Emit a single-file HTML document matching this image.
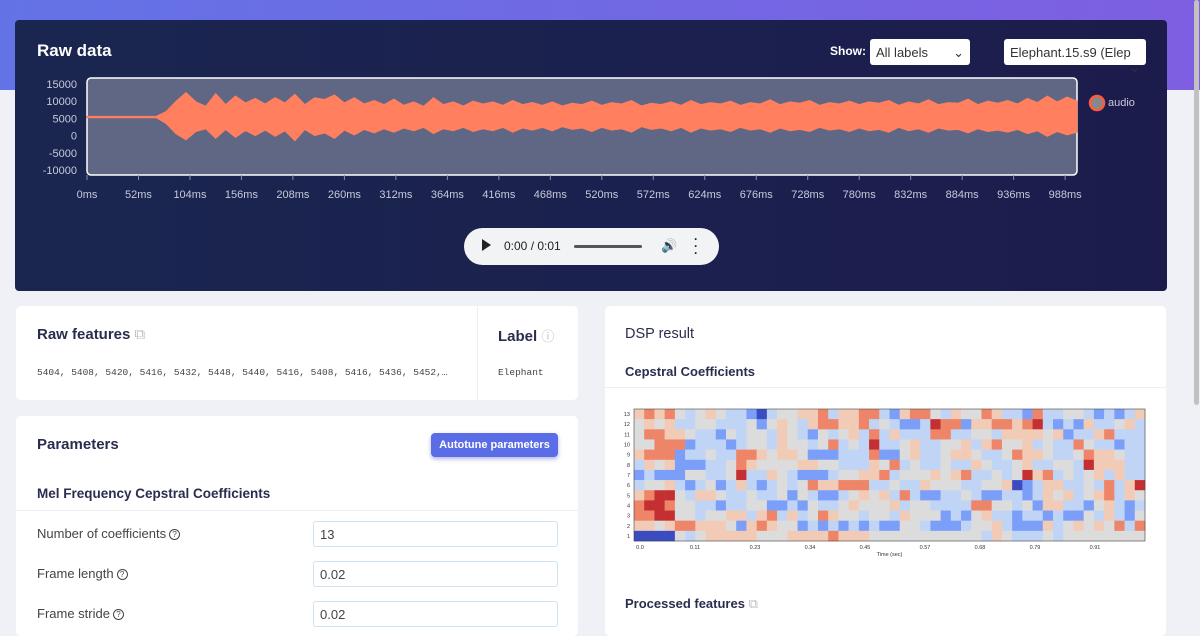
<!DOCTYPE html>
<html><head><meta charset="utf-8">
<style>
*{box-sizing:border-box;margin:0;padding:0}
body{width:1200px;height:621px;overflow:hidden;background:#f0f1f6;font-family:"Liberation Sans",sans-serif;position:relative;color:#2b2d4f}
.band{position:absolute;left:0;top:0;width:1200px;height:90px;background:linear-gradient(90deg,#6373e6,#7e5fe2)}
.dark{position:absolute;left:15px;top:20px;width:1152px;height:271px;border-radius:4px;background:linear-gradient(90deg,#1a2650,#1c1c4c)}
.card{position:absolute;background:#fff;border-radius:5px}
.h{position:absolute;font-weight:bold;color:#2b2d4f}
.sel{position:absolute;background:#fff;border-radius:3px;font-size:13px;color:#333;padding:6px 6px;height:26px}
.inp{position:absolute;left:313px;width:245px;height:26px;border:1px solid #cfe3f0;border-radius:3px;font-size:13px;color:#444;padding:5px 6px}
.lbl{position:absolute;left:37px;font-size:13px;color:#444}
.q{display:inline-block;width:11px;height:11px;border:1.3px solid #444;border-radius:50%;font-size:8px;text-align:center;line-height:9px;vertical-align:middle;margin-left:3px}
</style></head><body>
<div class="band"></div>
<div class="dark">
 <div class="h" style="left:22px;top:21px;color:#fff;font-size:17px">Raw data</div>
 <div class="h" style="left:815px;top:24px;color:#fff;font-size:12px">Show:</div>
 <div class="sel" style="left:855px;top:19px;width:100px">All labels <span style="float:right">⌄</span></div>
 <div class="sel" style="left:989px;top:19px;width:142px">Elephant.15.s9 (Elep <span style="float:right">⌄</span></div>
 <div style="position:absolute;left:449px;top:208px;width:255px;height:37px;border-radius:19px;background:#f1f3f4;font-size:12px;color:#222">
  <span style="position:absolute;left:18px;top:11px;border-left:9px solid #222;border-top:6px solid transparent;border-bottom:6px solid transparent"></span>
  <span style="position:absolute;left:40px;top:11px">0:00 / 0:01</span>
  <span style="position:absolute;left:110px;top:17px;width:68px;height:3px;background:#555;border-radius:2px"></span>
  <span style="position:absolute;left:197px;top:10px;font-size:13px">🔊</span>
  <span style="position:absolute;left:230px;top:8px;font-weight:bold;line-height:7px">·<br>·<br>·</span>
 </div>
</div>
<svg id="wave" width="1200" height="210" style="position:absolute;left:0;top:0"></svg>

<div class="card" style="left:16px;top:306px;width:562px;height:94px">
 <div class="h" style="left:21px;top:20px;font-size:15px">Raw features <span style="color:#bbb;font-weight:normal">⧉</span></div>
 <div style="position:absolute;left:21px;top:61px;font-family:'Liberation Mono',monospace;font-size:9.5px;color:#444">5404, 5408, 5420, 5416, 5432, 5448, 5440, 5416, 5408, 5416, 5436, 5452,…</div>
 <div style="position:absolute;left:461px;top:0;width:1px;height:94px;background:#eee"></div>
 <div class="h" style="left:482px;top:20px;font-size:15px">Label <span style="color:#bbb;font-weight:normal;font-size:13px">ⓘ</span></div>
 <div style="position:absolute;left:482px;top:61px;font-family:'Liberation Mono',monospace;font-size:9.5px;color:#444">Elephant</div>
</div>
<div class="card" style="left:16px;top:416px;width:562px;height:220px">
 <div class="h" style="left:21px;top:20px;font-size:15px">Parameters</div>
 <div style="position:absolute;left:415px;top:17px;width:127px;height:24px;background:#5b6de6;border-radius:4px;color:#fff;font-size:11px;font-weight:bold;text-align:center;line-height:24px;box-shadow:0 2px 4px rgba(60,60,200,.4)">Autotune parameters</div>
 <div class="h" style="left:21px;top:70px;font-size:13.5px">Mel Frequency Cepstral Coefficients</div>
 <div style="position:absolute;left:0;top:94px;width:562px;height:1px;background:#eee"></div>
</div>
<div class="lbl" style="top:526px">Number of coefficients<span class="q">?</span></div>
<div class="inp" style="top:521px">13</div>
<div class="lbl" style="top:566px">Frame length<span class="q">?</span></div>
<div class="inp" style="top:561px">0.02</div>
<div class="lbl" style="top:606px">Frame stride<span class="q">?</span></div>
<div class="inp" style="top:601px">0.02</div>

<div class="card" style="left:605px;top:306px;width:561px;height:330px">
 <div class="h" style="left:20px;top:20px;font-size:14.5px;font-weight:normal;color:#2b2d4f">DSP result</div>
 <div class="h" style="left:20px;top:58px;font-size:13px">Cepstral Coefficients</div>
 <div style="position:absolute;left:0;top:81px;width:561px;height:1px;background:#eee"></div>
 <div class="h" style="left:20px;top:290px;font-size:13px">Processed features <span style="color:#bbb;font-weight:normal">⧉</span></div>
</div>
<svg id="heat" width="1200" height="621" style="position:absolute;left:0;top:0;pointer-events:none"></svg>
<div style="position:absolute;left:1194px;top:0;width:5px;height:405px;background:#c1c1c1;border-radius:3px"></div>

<script>
// waveform envelope (thousands), one value per 10ms from 0 to 1000ms
const waveStepMs=10;
const waveUpper=[5.6,5.6,5.6,5.6,5.6,5.6,5.6,5.6,
7,10,12.5,9.8,8.5,12.2,9,11.5,9.5,10.8,9.2,11,9.5,12,9,11,10.5,11.8,9.5,11,9.2,10.2,9,10.6,8.8,9.8,8.5,11,9,9.8,8.6,10,9.2,9.8,8.8,10.2,9,9.6,8.8,9.8,8.6,9.4,9,10,8.8,9.6,9.2,10.2,8.6,9.4,9,9.8,8.8,10.2,9,9.6,9.2,10,8.8,9.6,9.2,10.4,9,9.8,9.4,10.2,8.8,9.6,9.2,10,9,9.8,9.4,10.2,8.8,9.8,9.2,10.4,9,9.6,9.4,10.6,9,10,9.4,10.2,9.2,10.8,9.6,11.5,9.8,11.2,10];
const waveLower=[5.2,5.2,5.2,5.2,5.2,5.2,5.2,5.2,
3.5,0.5,-1.2,1.2,2,-0.8,1.8,-0.5,1.5,0,1.6,-0.2,1.4,-1.5,1.8,0,0.8,-0.8,1.6,0.2,1.8,0.8,2,1,2.2,1.4,2.4,0.6,2,1.4,2.4,1.2,2,1.4,2.4,1,2.2,1.6,2.4,1.4,2.6,1.8,2.2,1.2,2.4,1.6,2,1,2.6,1.8,2.2,1.4,2.4,1,2.2,1.6,2,1.2,2.4,1.6,2,1,2.2,1.4,1.8,1.2,2.4,1.6,2,1.2,2.2,1.4,1.8,1,2.4,1.4,2,1,2.2,1.6,1.8,0.8,2,1.2,1.6,1,1.8,0.6,1.4,-0.2,1.2,0.2,1];
const xTicks=[0,52,104,156,208,260,312,364,416,468,520,572,624,676,728,780,832,884,936,988];
const yTicks=[15000,10000,5000,0,-5000,-10000];
const NS='http://www.w3.org/2000/svg';
function mk(svg,t,a){const e=document.createElementNS(NS,t);for(const k in a)e.setAttribute(k,a[k]);svg.appendChild(e);return e;}
const W=document.getElementById('wave');
const xS=v=>87+v*(1077-87)/1000;
const yS=v=>84+(15000-v)*(170-84)/25000;
let r=mk(W,'rect',{x:87,y:78,width:990,height:97,rx:4,fill:'#5f6784',stroke:'#fff','stroke-width':1.5});

let pts=waveUpper.map((v,i)=>xS(i*waveStepMs)+','+yS(v*1000)).concat(waveLower.map((v,i)=>xS(i*waveStepMs)+','+yS(v*1000)).reverse());
let p=mk(W,'polygon',{points:pts.join(' '),fill:'#ff7f5e',stroke:'#ff7f5e','stroke-width':1});

yTicks.forEach(v=>{let t=mk(W,'text',{x:77,y:yS(v)+4,'text-anchor':'end','font-size':11,fill:'#c6cadb','font-family':'Liberation Sans'});t.textContent=v;
});
xTicks.forEach(v=>{mk(W,'line',{x1:xS(v),x2:xS(v),y1:175,y2:180,stroke:'#8890aa'});let t=mk(W,'text',{x:xS(v),y:198,'text-anchor':'middle','font-size':11,fill:'#c6cadb','font-family':'Liberation Sans'});t.textContent=v+'ms';
});
let lg=mk(W,'circle',{cx:1097,cy:103,r:7,fill:'#888',stroke:'#ff5a3c','stroke-width':2.5});

let lt=mk(W,'text',{x:1108,y:106,'font-size':11,fill:'#c6cadb','font-family':'Liberation Sans'});lt.textContent='audio';


// heatmap rows top (13) to bottom (1); B=-3 b=-2 c=-1 0 p=1 r=2 R=3
const heatRows=[
"prpr0c0p0ccbBc00pprcpprrcbprr0cp00rpccbrcc00cbcbcp",
"0p0pcc00ccc0b0p0cprrpprc0cbbcRrrbpprrprRcbcbpcc0pc",
"0rrpp0ccb0c00cp0cb0c0pcrcpcccrrcc00cpppp0pbccprccc",
"00rrrbcccbc00cp00c0rc0cRcc0pcc00pcpr00pc0ccr0ccbcc",
"prrrbcc0ccrrp0pp0bbbcccrbb0pcc0pp0cc0rpp0cc0rpp0cc",
"cp0pbbbcc0rp0000pp00cccp0rc0cc0ccp0cc0pcc00cRpppcc",
"bcbbb00cc0Rccp0cbbbc00pprc000p0prcc0c0Rprc0c0pcpcc",
"c00pcbc0bcpcbc0c0rpprrrcc0ccp000cc00pBbcppcc0crcpR",
"prRR0cpp0cc0cc0b0cbbc0p0pcrcbbcc0cbbccbcp0pc0prcp0",
"rRRr00ccbcc00bbcb0cc0p000pc00ccccrr00c0bppccb0pcbc",
"rrRR00c00ppcprcpc0rp00c00cp000bcb0pccbccbcbb0cpcb0",
"pp0prrppp0bprp00bcbcbcbcbb00cbbbc00pcbbbpc0p0p0rcr",
"BBBB0c0ppppp000pppprppp00000000000cp0ccc0c00000000"
];
const rowLabels=[13,12,11,10,9,8,7,6,5,4,3,2,1];
const timeTicks=["0.0","0.11","0.23","0.34","0.45","0.57","0.68","0.79","0.91"];
const tickTimes=[0,0.11,0.23,0.34,0.45,0.57,0.68,0.79,0.91];
const colorMap={B:'#3b4cc0',b:'#7b9ff9',c:'#c0d4f5',0:'#dddcdc',p:'#f2cbb7',r:'#ee8468',R:'#c43032'};
const H=document.getElementById('heat');
const hx0=634,hx1=1145,hy0=409,hy1=541,nC=heatRows[0].length;
const cw=(hx1-hx0)/nC,rh=(hy1-hy0)/heatRows.length;
heatRows.forEach((row,ri)=>{[...row].forEach((ch,ci)=>{let c=mk(H,'rect',{x:hx0+ci*cw,y:hy0+ri*rh,width:cw+0.3,height:rh+0.3,fill:colorMap[ch]});
});
let t=mk(H,'text',{x:hx0-4,y:hy0+ri*rh+rh/2+2,'text-anchor':'end','font-size':5.5,fill:'#333','font-family':'Liberation Sans'});t.textContent=rowLabels[ri];
});
mk(H,'rect',{x:hx0,y:hy0,width:hx1-hx0,height:hy1-hy0,fill:'none',stroke:'#444','stroke-width':0.6});
const tS=v=>640+v*500;
tickTimes.forEach((v,i)=>{let t=mk(H,'text',{x:tS(v),y:549,'text-anchor':'middle','font-size':5.5,fill:'#333','font-family':'Liberation Sans'});t.textContent=timeTicks[i];
});
let xt=mk(H,'text',{x:(hx0+hx1)/2,y:556,'text-anchor':'middle','font-size':5.5,fill:'#333','font-family':'Liberation Sans'});xt.textContent='Time (sec)';

</script>
</body></html>
